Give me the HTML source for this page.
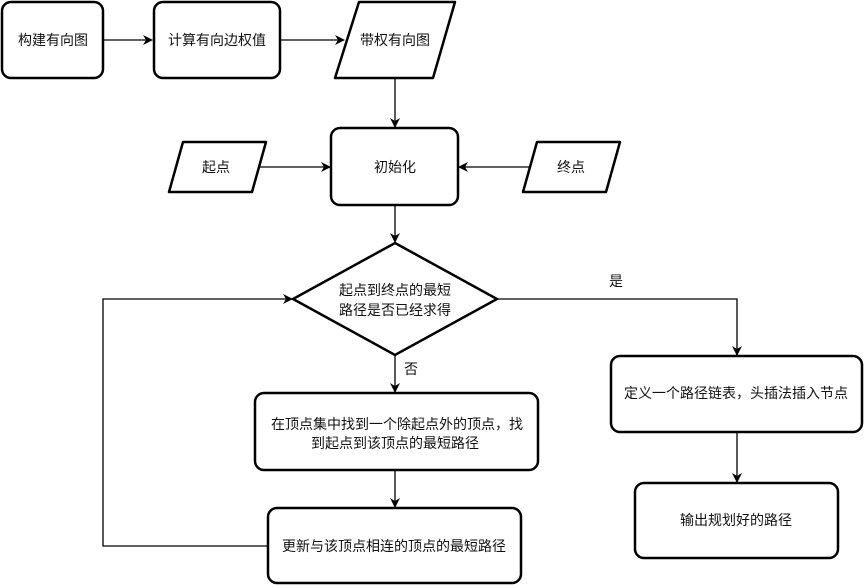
<!DOCTYPE html>
<html><head><meta charset="utf-8"><style>
html,body{margin:0;padding:0;background:#fff;}
svg{display:block;}
text{font-family:"Liberation Sans","Noto Sans CJK SC",sans-serif;font-size:14px;fill:#111;}
</style></head><body>
<svg width="864" height="585" viewBox="0 0 864 585" xmlns="http://www.w3.org/2000/svg">
<defs><marker id="a" markerWidth="10" markerHeight="10" refX="9" refY="5" orient="auto" markerUnits="userSpaceOnUse"><path d="M0,0 L10,5 L0,10 L3,5 Z" fill="#000"/></marker></defs>
<g fill="#fff" stroke="#000" stroke-width="2.5">
<rect x="2" y="2" width="101" height="76" rx="9"/>
<rect x="154" y="2" width="126" height="76" rx="9"/>
<path d="M359,2 L455,2 L433,78 L335,78 Z" stroke-linejoin="round"/>
<rect x="331" y="128" width="127" height="77" rx="9"/>
<path d="M183,142 L266,142 L252,192 L169,192 Z" stroke-linejoin="round"/>
<path d="M537,142 L620,142 L606,192 L523,192 Z" stroke-linejoin="round"/>
<path d="M395,243 L497,299 L395,355 L293,299 Z"/>
<rect x="255" y="393" width="283" height="77" rx="9"/>
<rect x="268" y="508" width="253" height="75" rx="9"/>
<rect x="611" y="356" width="251" height="76" rx="9"/>
<rect x="635" y="483" width="203" height="75" rx="9"/>
</g>
<g stroke="#000" stroke-width="1.3" fill="none">
<line x1="103" y1="40" x2="152" y2="40" marker-end="url(#a)"/>
<line x1="280" y1="40" x2="344" y2="40" marker-end="url(#a)"/>
<line x1="395" y1="78" x2="395" y2="127" marker-end="url(#a)"/>
<line x1="259" y1="167" x2="330" y2="167" marker-end="url(#a)"/>
<line x1="529" y1="167" x2="459" y2="167" marker-end="url(#a)"/>
<line x1="395" y1="205" x2="395" y2="242" marker-end="url(#a)"/>
<line x1="395" y1="355" x2="395" y2="392" marker-end="url(#a)"/>
<line x1="395" y1="470" x2="395" y2="507" marker-end="url(#a)"/>
<polyline points="268,546 103,546 103,299 292,299" marker-end="url(#a)"/>
<polyline points="497,299 737,299 737,355" marker-end="url(#a)"/>
<line x1="737" y1="432" x2="737" y2="482" marker-end="url(#a)"/>
</g>
<g text-anchor="middle">
<text x="53" y="45">构建有向图</text>
<text x="217" y="45">计算有向边权值</text>
<text x="395" y="45">带权有向图</text>
<text x="395" y="172">初始化</text>
<text x="216" y="172">起点</text>
<text x="571" y="172">终点</text>
<text x="395" y="295">起点到终点的最短</text>
<text x="395" y="315">路径是否已经求得</text>
<text x="411" y="374">否</text>
<text x="616" y="286">是</text>
<text x="397" y="429">在顶点集中找到一个除起点外的顶点，找</text>
<text x="395" y="448">到起点到该顶点的最短路径</text>
<text x="394" y="551">更新与该顶点相连的顶点的最短路径</text>
<text x="736" y="398">定义一个路径链表，头插法插入节点</text>
<text x="736" y="525">输出规划好的路径</text>
</g>
</svg>
</body></html>
